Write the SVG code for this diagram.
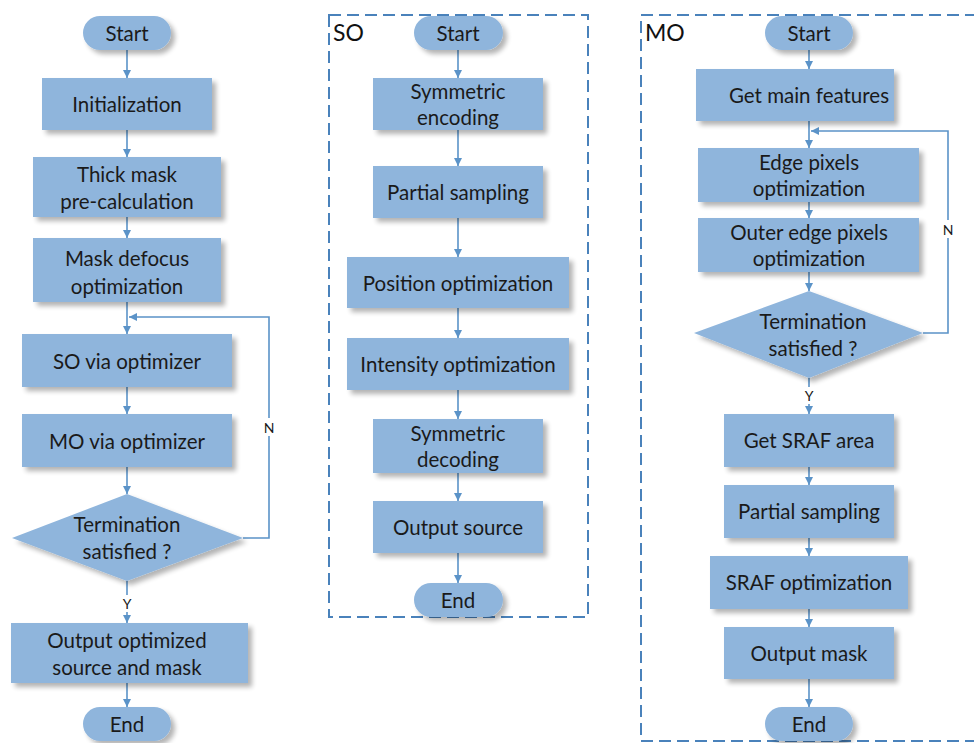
<svg xmlns="http://www.w3.org/2000/svg" width="974" height="743" viewBox="0 0 974 743">
<style>
.n{fill:#8fb5dc;filter:url(#sh)}
.t{font-family:Lato,"Open Sans","Liberation Sans",sans-serif;font-size:20.5px;fill:#1a1a1a;text-anchor:middle;dominant-baseline:central}
.lbl{font-family:Lato,"Open Sans","Liberation Sans",sans-serif;font-size:14px;fill:#1a1a1a;text-anchor:middle;dominant-baseline:central}
.big{font-family:Lato,"Open Sans","Liberation Sans",sans-serif;font-size:23px;fill:#111}
.c{stroke:#5b93c8;stroke-width:1.6;fill:none;marker-end:url(#ah)}
.frame{fill:none;stroke:#4a82bb;stroke-width:2;stroke-dasharray:12 6}
</style>
<defs>
<marker id="ah" markerWidth="10" markerHeight="10" refX="8" refY="4" orient="auto" markerUnits="userSpaceOnUse">
<path d="M0,0 L8,4 L0,8 z" fill="#5b93c8"/>
</marker>
<filter id="sh" x="-10%" y="-20%" width="125%" height="150%">
<feGaussianBlur in="SourceAlpha" stdDeviation="2.5"/>
<feOffset dx="4" dy="4" result="b"/>
<feComponentTransfer><feFuncA type="linear" slope="0.3"/></feComponentTransfer>
<feMerge><feMergeNode/><feMergeNode in="SourceGraphic"/></feMerge>
</filter>
</defs>
<rect width="974" height="743" fill="#fff"/>

<g id="frames">
<rect class="frame" x="329" y="15" width="259" height="602"/>
<text class="big" x="333" y="41">SO</text>
<rect class="frame" x="641" y="15" width="345" height="726"/>
<text class="big" x="645" y="41">MO</text>
</g>

<g id="connectors">
<line class="c" x1="127" y1="50" x2="127" y2="78"/>
<line class="c" x1="127" y1="130" x2="127" y2="157"/>
<line class="c" x1="127" y1="217" x2="127" y2="238"/>
<line class="c" x1="127" y1="302" x2="127" y2="334"/>
<line class="c" x1="127" y1="387" x2="127" y2="414"/>
<line class="c" x1="127" y1="467" x2="127" y2="494"/>
<line class="c" x1="127" y1="581" x2="127" y2="623"/>
<line class="c" x1="127" y1="683" x2="127" y2="707"/>
<polyline class="c" points="243,538 269,538 269,317 129,317"/>

<line class="c" x1="458" y1="50" x2="458" y2="78"/>
<line class="c" x1="458" y1="130" x2="458" y2="166"/>
<line class="c" x1="458" y1="218" x2="458" y2="257"/>
<line class="c" x1="458" y1="308" x2="458" y2="338"/>
<line class="c" x1="458" y1="390" x2="458" y2="419"/>
<line class="c" x1="458" y1="473" x2="458" y2="501"/>
<line class="c" x1="458" y1="553" x2="458" y2="583"/>

<line class="c" x1="809" y1="50" x2="809" y2="69"/>
<line class="c" x1="809" y1="121" x2="809" y2="148"/>
<line class="c" x1="809" y1="202" x2="809" y2="218"/>
<line class="c" x1="809" y1="272" x2="809" y2="291"/>
<line class="c" x1="809" y1="378" x2="809" y2="414"/>
<line class="c" x1="809" y1="467" x2="809" y2="485"/>
<line class="c" x1="809" y1="538" x2="809" y2="556"/>
<line class="c" x1="809" y1="609" x2="809" y2="627"/>
<line class="c" x1="809" y1="679" x2="809" y2="707"/>
<polyline class="c" points="923,333 948,333 948,131 811,131"/>

<rect x="262" y="418" width="14" height="18" fill="#fff"/>
<text class="lbl" x="269" y="427">N</text>
<rect x="120" y="595" width="14" height="17" fill="#fff"/>
<text class="lbl" x="127" y="603">Y</text>
<rect x="941" y="220" width="14" height="18" fill="#fff"/>
<text class="lbl" x="948" y="229">N</text>
<rect x="802" y="387" width="14" height="17" fill="#fff"/>
<text class="lbl" x="809" y="395">Y</text>
</g>

<g id="L_start"><rect class="n" x="83" y="16" width="88" height="34" rx="17"/><text class="t" x="127" y="33">Start</text></g>
<g id="L_init"><rect class="n" x="42" y="78" width="170" height="52"/><text class="t" x="127" y="104">Initialization</text></g>
<g id="L_thick"><rect class="n" x="33" y="157" width="188" height="60"/><text class="t" x="127" y="174">Thick mask</text><text class="t" x="127" y="201">pre-calculation</text></g>
<g id="L_defocus"><rect class="n" x="33" y="238" width="188" height="64"/><text class="t" x="127" y="258">Mask defocus</text><text class="t" x="127" y="286">optimization</text></g>
<g id="L_so"><rect class="n" x="22" y="334" width="210" height="53"/><text class="t" x="127" y="361">SO via optimizer</text></g>
<g id="L_mo"><rect class="n" x="22" y="414" width="210" height="53"/><text class="t" x="127" y="441">MO via optimizer</text></g>
<g id="L_term"><polygon class="n" points="127,494 243,538 127,581 12,538"/><text class="t" x="127" y="524">Termination</text><text class="t" x="127" y="551">satisfied ?</text></g>
<g id="L_out"><rect class="n" x="11" y="623" width="237" height="60"/><text class="t" x="127" y="640">Output optimized</text><text class="t" x="127" y="667">source and mask</text></g>
<g id="L_end"><rect class="n" x="83" y="707" width="88" height="34" rx="17"/><text class="t" x="127" y="724">End</text></g>

<g id="S_start"><rect class="n" x="414" y="16" width="89" height="34" rx="17"/><text class="t" x="458" y="33">Start</text></g>
<g id="S_enc"><rect class="n" x="373" y="78" width="170" height="52"/><text class="t" x="458" y="91">Symmetric</text><text class="t" x="458" y="117">encoding</text></g>
<g id="S_samp"><rect class="n" x="373" y="166" width="170" height="52"/><text class="t" x="458" y="192">Partial sampling</text></g>
<g id="S_pos"><rect class="n" x="347" y="257" width="222" height="51"/><text class="t" x="458" y="283">Position optimization</text></g>
<g id="S_int"><rect class="n" x="347" y="338" width="222" height="52"/><text class="t" x="458" y="364">Intensity optimization</text></g>
<g id="S_dec"><rect class="n" x="373" y="419" width="170" height="54"/><text class="t" x="458" y="433">Symmetric</text><text class="t" x="458" y="459">decoding</text></g>
<g id="S_out"><rect class="n" x="373" y="501" width="170" height="52"/><text class="t" x="458" y="527">Output source</text></g>
<g id="S_end"><rect class="n" x="414" y="583" width="89" height="34" rx="17"/><text class="t" x="458" y="600">End</text></g>

<g id="M_start"><rect class="n" x="765" y="16" width="88" height="34" rx="17"/><text class="t" x="809" y="33">Start</text></g>
<g id="M_main"><rect class="n" x="696" y="69" width="198" height="52"/><text class="t" x="809" y="95">Get main features</text></g>
<g id="M_edge"><rect class="n" x="698" y="148" width="221" height="54"/><text class="t" x="809" y="162">Edge pixels</text><text class="t" x="809" y="188">optimization</text></g>
<g id="M_outer"><rect class="n" x="698" y="218" width="221" height="54"/><text class="t" x="809" y="232">Outer edge pixels</text><text class="t" x="809" y="258">optimization</text></g>
<g id="M_term"><polygon class="n" points="809,291 923,333 809,378 694,333"/><text class="t" x="813" y="321">Termination</text><text class="t" x="813" y="348">satisfied ?</text></g>
<g id="M_sraf"><rect class="n" x="724" y="414" width="170" height="53"/><text class="t" x="809" y="440">Get SRAF area</text></g>
<g id="M_samp"><rect class="n" x="724" y="485" width="170" height="53"/><text class="t" x="809" y="511">Partial sampling</text></g>
<g id="M_opt"><rect class="n" x="710" y="556" width="198" height="53"/><text class="t" x="809" y="582">SRAF optimization</text></g>
<g id="M_out"><rect class="n" x="724" y="627" width="170" height="52"/><text class="t" x="809" y="653">Output mask</text></g>
<g id="M_end"><rect class="n" x="765" y="707" width="88" height="34" rx="17"/><text class="t" x="809" y="724">End</text></g>
</svg>
